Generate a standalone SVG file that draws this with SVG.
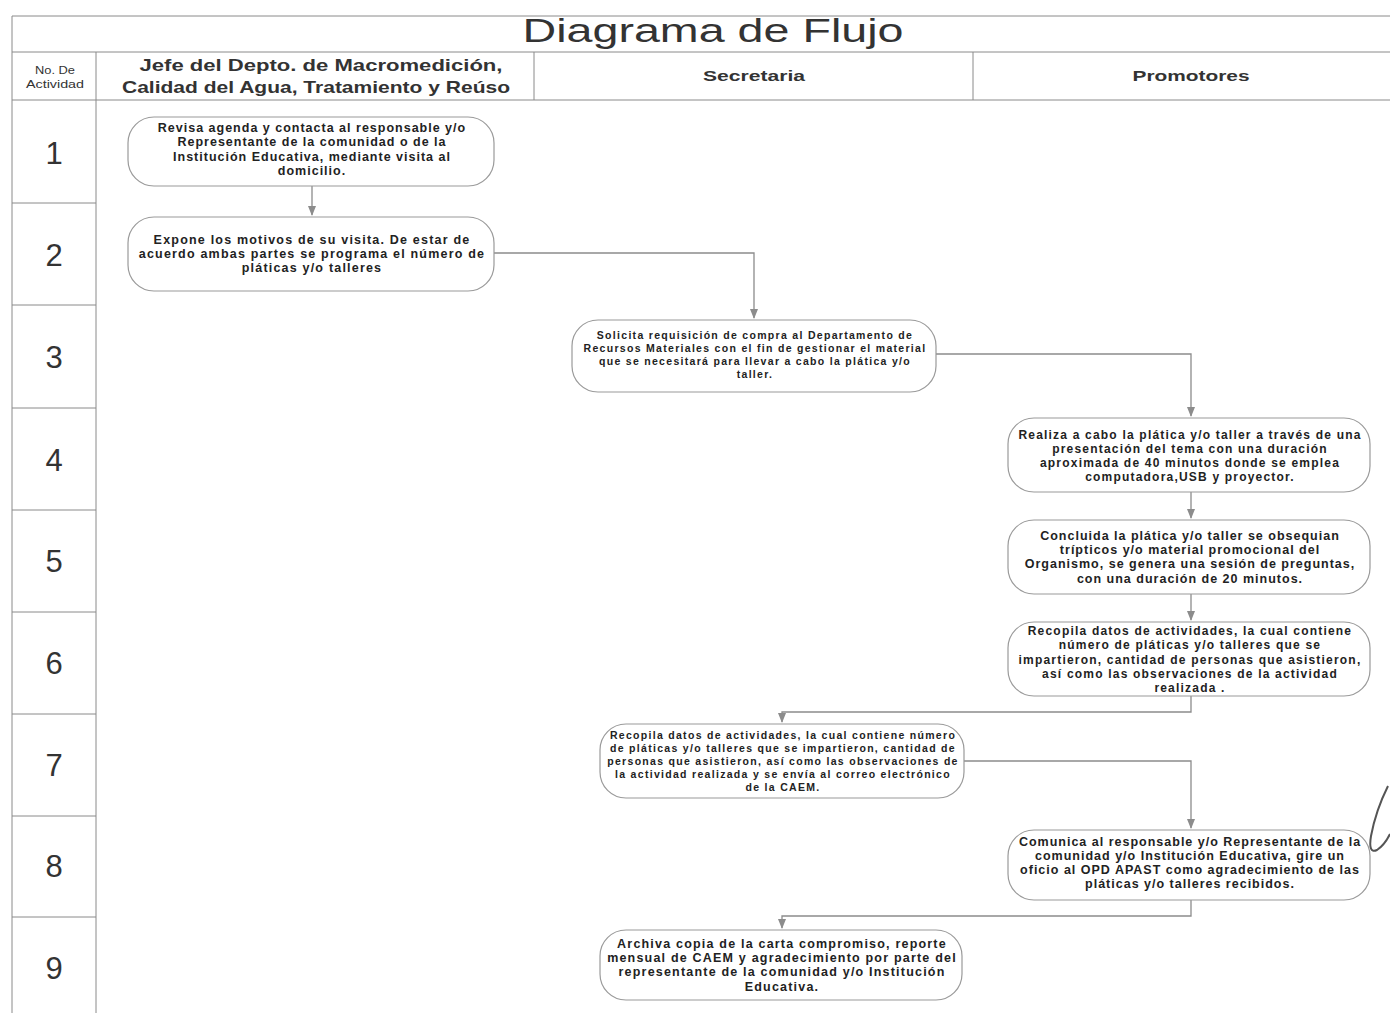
<svg xmlns="http://www.w3.org/2000/svg" width="1390" height="1013" viewBox="0 0 1390 1013">
<style>
.grid{stroke:#8a8a8a;stroke-width:1;fill:none}
.num{font-family:"Liberation Sans",Arial,sans-serif;font-size:31px;fill:#333;text-anchor:middle}
.hd{font-family:"Liberation Sans",Arial,sans-serif;font-weight:bold;fill:#333;text-anchor:middle}
.sm{font-family:"Liberation Sans",Arial,sans-serif;font-weight:normal;font-size:10px;fill:#333;text-anchor:middle}
.box{fill:#fff;stroke:#9a9a9a;stroke-width:1.2}
.t{font-family:"Liberation Sans",Arial,sans-serif;font-weight:bold;fill:#222;text-anchor:middle}
.c{stroke:#8c8c8c;stroke-width:1.3;fill:none;marker-end:url(#ah)}
</style>
<defs>
<marker id="ah" markerWidth="10" markerHeight="8" refX="9" refY="4" orient="auto" markerUnits="userSpaceOnUse">
<path d="M0,0 L10,4 L0,8 Z" fill="#8c8c8c"/>
</marker>
</defs>
<rect width="1390" height="1013" fill="#fff"/>
<g id="table">
<path class="grid" d="M12,16 H1390 M12,52 H1390 M12,100 H1390 M12,16 V1013 M96,52 V1013 M534,52 V100 M973,52 V100"/>
<path class="grid" d="M12,203 H96 M12,305 H96 M12,408 H96 M12,510 H96 M12,612 H96 M12,714 H96 M12,816 H96 M12,917 H96"/>
<text x="713" y="42" font-family="'Liberation Sans',Arial,sans-serif" font-size="33" fill="#333" text-anchor="middle" textLength="381" lengthAdjust="spacingAndGlyphs">Diagrama de Flujo</text>
<text class="sm" x="55" y="74" textLength="40" lengthAdjust="spacingAndGlyphs">No. De</text>
<text class="sm" x="55" y="88" textLength="58" lengthAdjust="spacingAndGlyphs">Actividad</text>
<text class="hd" x="321" y="71" font-size="16.5" textLength="363" lengthAdjust="spacingAndGlyphs">Jefe del Depto. de Macromedición,</text>
<text class="hd" x="316" y="93" font-size="16.5" textLength="388" lengthAdjust="spacingAndGlyphs">Calidad del Agua, Tratamiento y Reúso</text>
<text class="hd" x="754" y="81" font-size="15" textLength="102" lengthAdjust="spacingAndGlyphs">Secretaria</text>
<text class="hd" x="1191" y="81" font-size="15" textLength="117" lengthAdjust="spacingAndGlyphs">Promotores</text>
<text class="num" x="54" y="164">1</text>
<text class="num" x="54" y="266">2</text>
<text class="num" x="54" y="368">3</text>
<text class="num" x="54" y="471">4</text>
<text class="num" x="54" y="572">5</text>
<text class="num" x="54" y="674">6</text>
<text class="num" x="54" y="776">7</text>
<text class="num" x="54" y="877">8</text>
<text class="num" x="54" y="979">9</text>
</g>
<g id="connectors">
<path class="c" d="M312,186 V215"/>
<path class="c" d="M494,253 H754 V318"/>
<path class="c" d="M936,354 H1191 V416"/>
<path class="c" d="M1191,492 V518"/>
<path class="c" d="M1191,594 V620"/>
<path class="c" d="M1191,696 V712 H782 V722"/>
<path class="c" d="M964,761 H1191 V828"/>
<path class="c" d="M1191,900 V916 H782 V928"/>
</g>
<g id="n1">
<rect class="box" x="128" y="117" width="366" height="69" rx="26"/>
<text class="t" font-size="12.5" letter-spacing="1"><tspan x="312" y="132">Revisa agenda y contacta al responsable y/o</tspan><tspan x="312" y="146">Representante de la comunidad o de la</tspan><tspan x="312" y="161">Institución Educativa, mediante visita al</tspan><tspan x="312" y="175">domicilio.</tspan></text>
</g>
<g id="n2">
<rect class="box" x="128" y="217" width="366" height="74" rx="26"/>
<text class="t" font-size="12.5" letter-spacing="1.2"><tspan x="312" y="244">Expone los motivos de su visita. De estar de</tspan><tspan x="312" y="258">acuerdo ambas partes se programa el número de</tspan><tspan x="312" y="272">pláticas y/o talleres</tspan></text>
</g>
<g id="n3">
<rect class="box" x="572" y="320" width="364" height="72" rx="26"/>
<text class="t" font-size="10.5" letter-spacing="1.3"><tspan x="755" y="339">Solicita requisición de compra  al Departamento de</tspan><tspan x="755" y="352">Recursos Materiales con el fin de gestionar el material</tspan><tspan x="755" y="365">que se necesitará para llevar a cabo la plática y/o</tspan><tspan x="755" y="378">taller.</tspan></text>
</g>
<g id="n4">
<rect class="box" x="1008" y="418" width="362" height="74" rx="26"/>
<text class="t" font-size="12" letter-spacing="1.2"><tspan x="1190" y="439">Realiza a cabo la plática y/o taller a través de  una</tspan><tspan x="1190" y="453">presentación del tema con una duración</tspan><tspan x="1190" y="467">aproximada de 40 minutos donde se emplea</tspan><tspan x="1190" y="481">computadora,USB  y proyector.</tspan></text>
</g>
<g id="n5">
<rect class="box" x="1008" y="520" width="362" height="74" rx="26"/>
<text class="t" font-size="12.5" letter-spacing="1"><tspan x="1190" y="540">Concluida la plática y/o taller se obsequian</tspan><tspan x="1190" y="554">trípticos y/o material promocional del</tspan><tspan x="1190" y="568">Organismo, se genera una sesión de preguntas,</tspan><tspan x="1190" y="583">con una duración de 20 minutos.</tspan></text>
</g>
<g id="n6">
<rect class="box" x="1008" y="622" width="362" height="74" rx="26"/>
<text class="t" font-size="12" letter-spacing="1.2"><tspan x="1190" y="635">Recopila datos de actividades, la cual contiene</tspan><tspan x="1190" y="649">número de pláticas y/o talleres que se</tspan><tspan x="1190" y="664">impartieron, cantidad de personas que asistieron,</tspan><tspan x="1190" y="678">así como las observaciones de la actividad</tspan><tspan x="1190" y="692">realizada .</tspan></text>
</g>
<g id="n7">
<rect class="box" x="600" y="724" width="364" height="74" rx="26"/>
<text class="t" font-size="10.5" letter-spacing="1.3"><tspan x="783" y="739">Recopila datos de actividades, la cual contiene número</tspan><tspan x="783" y="752">de pláticas y/o talleres que se impartieron, cantidad de</tspan><tspan x="783" y="765">personas que asistieron, así como las observaciones de</tspan><tspan x="783" y="778">la actividad realizada y se envía al correo electrónico</tspan><tspan x="783" y="791">de la CAEM.</tspan></text>
</g>
<g id="n8">
<rect class="box" x="1008" y="830" width="362" height="70" rx="26"/>
<text class="t" font-size="12.5" letter-spacing="1"><tspan x="1190" y="846">Comunica al responsable y/o Representante de la</tspan><tspan x="1190" y="860">comunidad y/o Institución Educativa, gire un</tspan><tspan x="1190" y="874">oficio al OPD APAST como agradecimiento de las</tspan><tspan x="1190" y="888">pláticas y/o talleres recibidos.</tspan></text>
</g>
<g id="n9">
<rect class="box" x="600" y="930" width="362" height="70" rx="26"/>
<text class="t" font-size="12.5" letter-spacing="1.2"><tspan x="782" y="948">Archiva copia de la carta compromiso, reporte</tspan><tspan x="782" y="962">mensual de CAEM y agradecimiento por parte del</tspan><tspan x="782" y="976">representante de la comunidad y/o Institución</tspan><tspan x="782" y="991">Educativa.</tspan></text>
</g>
<path d="M1388,786 C1380,802 1374,820 1371,836 C1369,848 1371,853 1377,850 C1383,846 1387,840 1390,834" fill="none" stroke="#555" stroke-width="2"/>
</svg>
